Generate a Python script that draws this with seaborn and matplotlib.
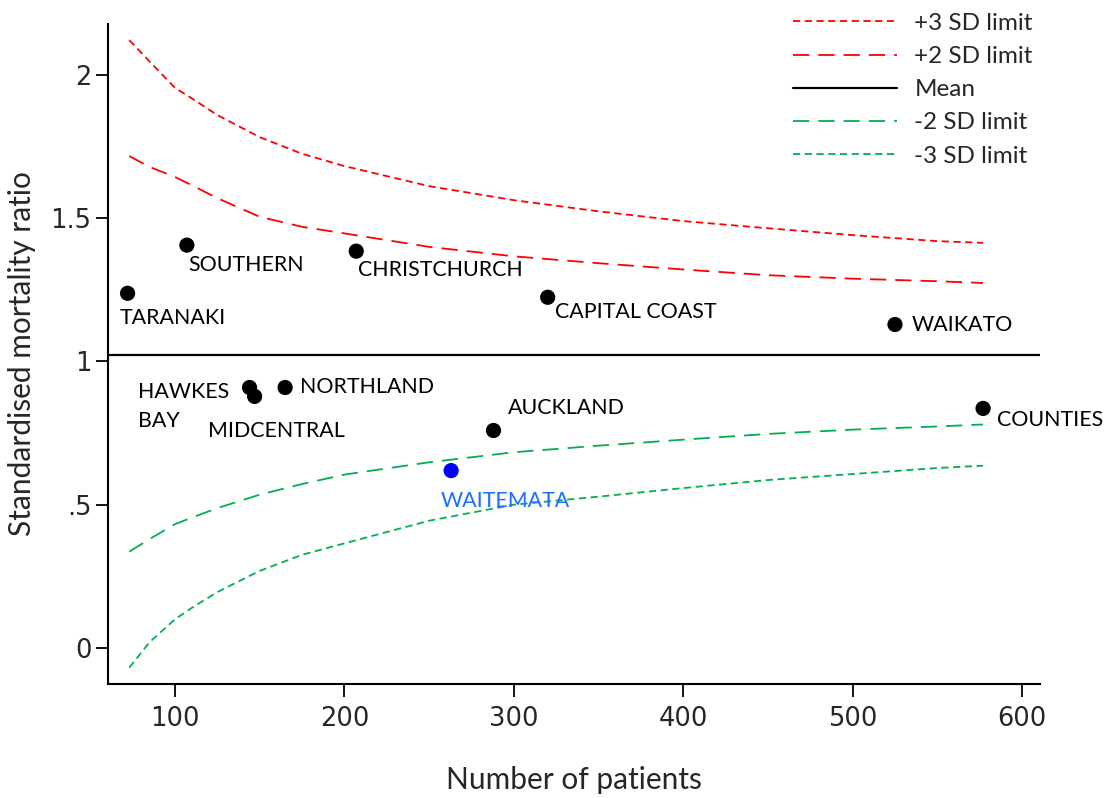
import numpy as np
import pandas as pd
import matplotlib
matplotlib.use("Agg")
import matplotlib.pyplot as plt
import seaborn as sns
from matplotlib.lines import Line2D

# funnel limits
n_limit = [73, 85, 100, 110, 125, 150, 175, 200, 250, 300, 350, 400, 450, 500, 550, 577]
plus3 = [2.122, 2.047, 1.955, 1.918, 1.860, 1.783, 1.725, 1.682, 1.612, 1.563, 1.524, 1.490, 1.465, 1.441, 1.420, 1.414]
plus2 = [1.717, 1.679, 1.644, 1.615, 1.570, 1.505, 1.470, 1.447, 1.400, 1.367, 1.343, 1.321, 1.301, 1.289, 1.280, 1.274]
minus2 = [0.336, 0.380, 0.432, 0.455, 0.488, 0.535, 0.572, 0.605, 0.648, 0.683, 0.706, 0.727, 0.747, 0.762, 0.773, 0.780]
minus3 = [-0.069, 0.020, 0.100, 0.140, 0.195, 0.269, 0.325, 0.365, 0.444, 0.500, 0.528, 0.558, 0.586, 0.607, 0.628, 0.636]
mean_smr = 1.022

# district health boards
districts = ["TARANAKI", "SOUTHERN", "CHRISTCHURCH", "CAPITAL COAST", "WAIKATO",
             "HAWKES\nBAY", "MIDCENTRAL", "NORTHLAND", "AUCKLAND", "WAITEMATA", "COUNTIES"]
patients = [72, 107, 207, 320, 525, 144, 147, 165, 288, 263, 577]
smr = [1.238, 1.406, 1.385, 1.224, 1.129, 0.909, 0.878, 0.909, 0.759, 0.619, 0.836]

# label offsets (pixels) from each point
label_dx = [-8, 1, 2, 7, 17, -112, -47, 15, 14, -10, 14]
label_dy = [-25, -20, -19, -15, -1, -19, -35, 1, 22, -30, -12]

RED = "#ff0000"
GREEN = "#00b050"
BLUE = "#0000ff"
LBLUE = "#1a6fff"
TXT = "Lato"

sns.set_style("white")
fig = plt.figure(figsize=(11.06, 7.98), dpi=100)
ax = fig.add_axes([108 / 1106, 1 - 684 / 798, (1040 - 108) / 1106, (684 - 24) / 798])

df = pd.DataFrame({"n": n_limit, "p3": plus3, "p2": plus2, "m2": minus2, "m3": minus3})
short = (0, (4, 2.5))
long_ = (0, (9, 5))
series = [("p3", RED, short), ("p2", RED, long_), ("m2", GREEN, long_), ("m3", GREEN, short)]
for col, c, ls in series:
    sns.lineplot(data=df, x="n", y=col, color=c, linestyle=ls, linewidth=1.3, ax=ax)
ax.axhline(mean_smr, color="black", linewidth=1.6)

pts = pd.DataFrame({"n": patients, "smr": smr, "name": districts})
pts["kind"] = ["blue" if d == "WAITEMATA" else "black" for d in districts]
sns.scatterplot(data=pts, x="n", y="smr", hue="kind", palette={"black": "black", "blue": BLUE},
                s=120, edgecolor="none", legend=False, ax=ax)

for name, x, y, dx, dy in zip(districts, patients, smr, label_dx, label_dy):
    c = LBLUE if name == "WAITEMATA" else "black"
    ax.annotate(name, (x, y), xytext=(dx, dy), textcoords="offset pixels",
                ha="left", va="center", fontsize=15.4, family=TXT, color=c,
                linespacing=1.55)

ax.set_xlim(60.45, 610.6)
ax.set_ylim(-0.126, 2.178)
ax.set_xticks([100, 200, 300, 400, 500, 600])
ax.set_yticks([0, 0.5, 1, 1.5, 2])
ax.set_yticklabels(["0", ".5", "1", "1.5", "2"])
for lab in ax.get_xticklabels() + ax.get_yticklabels():
    lab.set_family("DejaVu Sans")
    lab.set_fontsize(18.5)
ax.tick_params(axis="both", direction="out", length=9, width=1.3, color="black", left=True, bottom=True)
ax.tick_params(axis="x", pad=7)
ax.tick_params(axis="y", pad=3)
ax.yaxis.get_major_ticks()[3].tick1line.set_color("#1a6fff")
ax.xaxis.get_major_ticks()[0].tick1line.set_color(GREEN)
for s in ["top", "right"]:
    ax.spines[s].set_visible(False)
for s in ["left", "bottom"]:
    ax.spines[s].set_linewidth(1.5)
    ax.spines[s].set_color("black")
ax.set_xlabel("Number of patients", family=TXT, fontsize=21.5, labelpad=24)
ax.set_ylabel("Standardised mortality ratio", family=TXT, fontsize=21.5, labelpad=10)

handles = [Line2D([], [], color=RED, linestyle=short, linewidth=1.3),
           Line2D([], [], color=RED, linestyle=long_, linewidth=1.3),
           Line2D([], [], color="black", linewidth=1.6),
           Line2D([], [], color=GREEN, linestyle=long_, linewidth=1.3),
           Line2D([], [], color=GREEN, linestyle=short, linewidth=1.3)]
labels = ["+3 SD limit", "+2 SD limit", "Mean", "-2 SD limit", "-3 SD limit"]
fig.legend(handles, labels, loc="upper left", bbox_to_anchor=(771 / 1106, 1 + 9 / 798),
           frameon=False, prop={"family": TXT, "size": 17.5}, handlelength=4.3,
           handletextpad=0.7, labelspacing=0.5)

fig.savefig("out.png", dpi=100)
